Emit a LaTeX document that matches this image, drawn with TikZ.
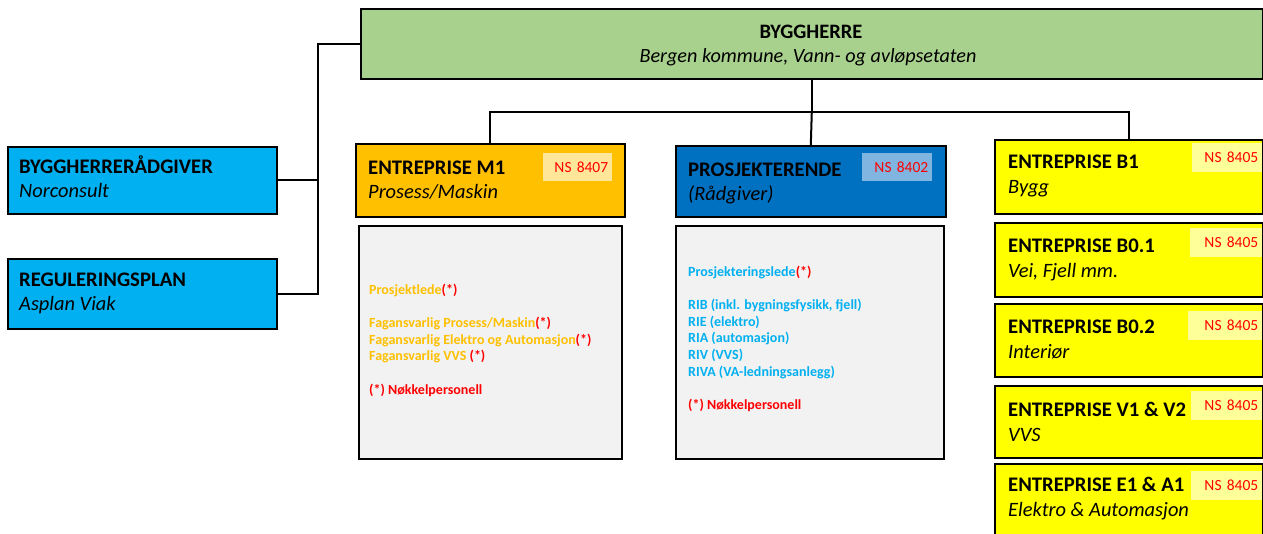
\documentclass[tikz,border=0pt]{standalone}
\usepackage{fontspec}
\setmainfont{Carlito}
\definecolor{cgreen}{HTML}{A9D18E}
\definecolor{csky}{HTML}{00B0F0}
\definecolor{corange}{HTML}{FFC000}
\definecolor{cblue}{HTML}{0070C0}
\definecolor{cyellow}{HTML}{FFFF00}
\definecolor{cgray}{HTML}{F2F2F2}
\definecolor{tagorange}{HTML}{FFE699}
\definecolor{tagblue}{HTML}{7FB5E0}
\definecolor{tagyellow}{HTML}{FFFF99}
\definecolor{cred}{HTML}{FF0000}
\tikzset{
  x=1pt, y=-1pt,
  box/.style={draw=black, line width=1.6pt, inner sep=0pt, anchor=north west},
  tag/.style={inner xsep=4pt, inner ysep=0pt, anchor=north west, text=cred, align=right, font=\fontsize{15.5}{17}\selectfont},
  ttl/.style={anchor=base west, inner sep=0pt, font=\fontsize{20.7}{24}\selectfont\bfseries},
  sub/.style={anchor=base west, inner sep=0pt, font=\fontsize{20.4}{24}\selectfont\itshape},
  det/.style={anchor=north west, inner sep=0pt, align=left, font=\fontsize{14}{16.6}\selectfont\bfseries},
  conn/.style={line width=2pt, black},
}
\begin{document}
\begin{tikzpicture}
\useasboundingbox (0,0) rectangle (1263,534);
% boxes
\node[box, fill=cgreen, minimum width=902pt, minimum height=70pt] (bh) at (360,8) {};
\node[box, fill=csky, minimum width=269pt, minimum height=67pt] (rad) at (7,146) {};
\node[box, fill=csky, minimum width=269pt, minimum height=70pt] (reg) at (7,258) {};
\node[box, fill=corange, minimum width=269pt, minimum height=73pt] (m1) at (355,143) {};
\node[box, fill=cblue, minimum width=270pt, minimum height=71pt] (pr) at (675,145) {};
\node[box, fill=cgray, minimum width=263pt, minimum height=233pt] (m1d) at (358,225) {};
\node[box, fill=cgray, minimum width=268pt, minimum height=233pt] (prd) at (675,225) {};
\node[box, fill=cyellow, minimum width=268pt, minimum height=74pt] (b1) at (994,139) {};
\node[box, fill=cyellow, minimum width=268pt, minimum height=74pt] (b01) at (994,222) {};
\node[box, fill=cyellow, minimum width=268pt, minimum height=73pt] (b02) at (994,303) {};
\node[box, fill=cyellow, minimum width=268pt, minimum height=72pt] (v1) at (994,385) {};
\node[box, fill=cyellow, minimum width=268pt, minimum height=80pt] (e1) at (994,463) {};
% tags
\node[tag, fill=tagorange, text width=61pt, minimum height=28pt] (t1) at (543,153) {NS 8407};
\node[tag, fill=tagblue, text width=62pt, minimum height=28pt] (t2) at (862,153) {NS 8402};
\node[tag, fill=tagyellow, text width=62pt, minimum height=29pt] (t3) at (1192,143) {NS 8405};
\node[tag, fill=tagyellow, text width=64pt, minimum height=29pt] (t4) at (1190,228) {NS 8405};
\node[tag, fill=tagyellow, text width=66pt, minimum height=29pt] (t5) at (1188,311) {NS 8405};
\node[tag, fill=tagyellow, text width=63pt, minimum height=29pt] (t6) at (1191,391) {NS 8405};
\node[tag, fill=tagyellow, text width=63pt, minimum height=29pt] (t7) at (1191,471) {NS 8405};
% connectors
\draw[conn] (bh.west) -- ++(-42,0) coordinate (jl) |- (reg.east);
\draw[conn] (rad.east) -| (jl);
\draw[conn] (bh.south) -- ++(0,32) coordinate (jt);
\draw[conn] (jt) -| (m1.north);
\draw[conn] (jt) -- (pr.north);
\draw[conn] (jt) -| (b1.north);
% texts
\node[anchor=base, inner sep=0pt, font=\fontsize{20.5}{24}\selectfont\bfseries] (bht) at (811,39) {BYGGHERRE};
\node[anchor=base, inner sep=0pt, font=\fontsize{20.2}{24}\selectfont\itshape] (bhs) at (808,63) {Bergen kommune, Vann- og avløpsetaten};
\node[ttl] (radt) at (19,174) {BYGGHERRERÅDGIVER};
\node[sub] (rads) at (19,198) {Norconsult};
\node[ttl] (regt) at (19,287) {REGULERINGSPLAN};
\node[sub] (regs) at (19,311) {Asplan Viak};
\node[ttl] (m1t) at (368,175) {ENTREPRISE M1};
\node[sub] (m1s) at (368,199) {Prosess/Maskin};
\node[ttl] (prt) at (688,177) {PROSJEKTERENDE};
\node[sub] (prs) at (688,201) {(Rådgiver)};
\node[ttl] (b1t) at (1008,169) {ENTREPRISE B1};
\node[sub] (b1s) at (1008,194) {Bygg};
\node[ttl] (b01t) at (1008,253) {ENTREPRISE B0.1};
\node[sub] (b01s) at (1008,278) {Vei, Fjell mm.};
\node[ttl] (b02t) at (1008,334) {ENTREPRISE B0.2};
\node[sub] (b02s) at (1008,359) {Interiør};
\node[ttl] (v1t) at (1008,416) {ENTREPRISE V1 \& V2};
\node[sub] (v1s) at (1008,441) {VVS};
\node[ttl] (e1t) at (1008,491) {ENTREPRISE E1 \& A1};
\node[sub] (e1s) at (1008,516) {Elektro \& Automasjon};
% details
\node[det, text=corange] (m1x) at (369,284) {Prosjektlede\textcolor{cred}{(*)}\\[16.6pt]
Fagansvarlig Prosess/Maskin\textcolor{cred}{(*)}\\
Fagansvarlig Elektro og Automasjon\textcolor{cred}{(*)}\\
Fagansvarlig VVS \textcolor{cred}{(*)}\\[16.6pt]
\textcolor{cred}{(*) Nøkkelpersonell}};
\node[det, text=csky] (prx) at (688,266) {Prosjekteringslede\textcolor{cred}{(*)}\\[16.6pt]
RIB (inkl. bygningsfysikk, fjell)\\
RIE (elektro)\\
RIA (automasjon)\\
RIV (VVS)\\
RIVA (VA-ledningsanlegg)\\[16.6pt]
\textcolor{cred}{(*) Nøkkelpersonell}};
\end{tikzpicture}
\end{document}
